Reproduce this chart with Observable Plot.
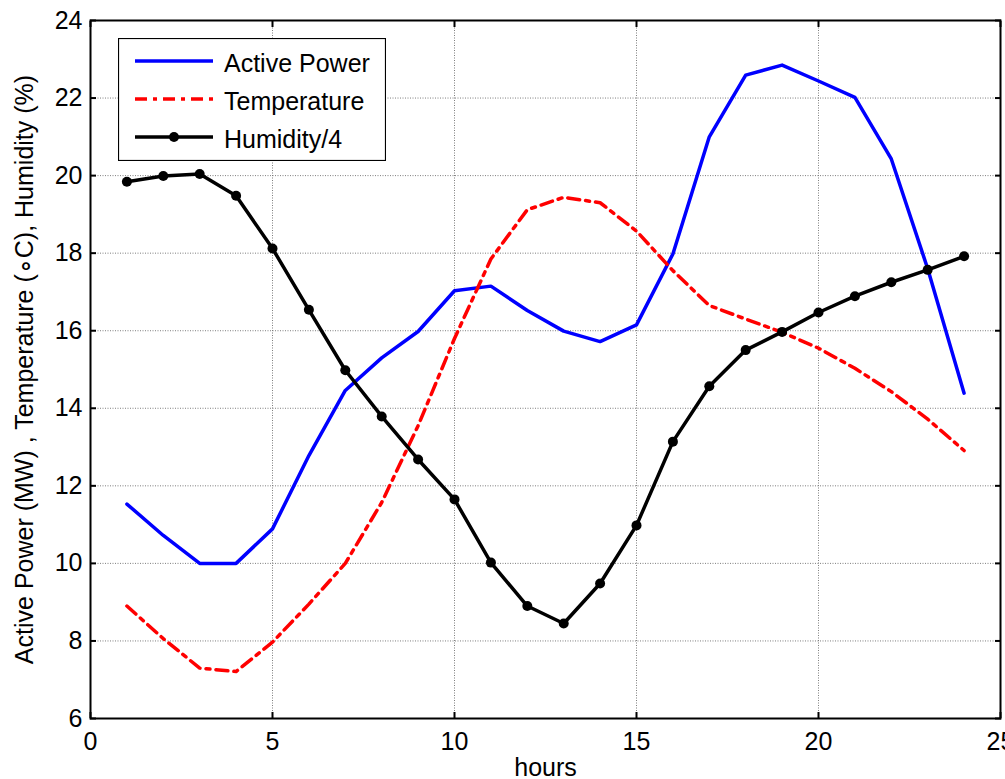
<!DOCTYPE html>
<html>
<head>
<meta charset="utf-8">
<script src="https://cdn.jsdelivr.net/npm/d3@7"></script>
<script src="https://cdn.jsdelivr.net/npm/@observablehq/plot@0.6"></script>
<style>
  html, body { margin: 0; padding: 0; background: #fff; }
  #wrap { position: relative; width: 1005px; height: 779px; overflow: hidden; }
  #legend { position: absolute; left: 118px; top: 38px; }
</style>
</head>
<body>
<div id="wrap"></div>
<script>
// ---- data ----
const hours = [1,2,3,4,5,6,7,8,9,10,11,12,13,14,15,16,17,18,19,20,21,22,23,24];
const activePower = [11.53,10.72,10.0,10.0,10.89,12.78,14.46,15.3,15.98,17.03,17.15,16.52,15.99,15.72,16.15,17.98,21.0,22.59,22.85,22.44,22.02,20.43,17.6,14.39];
const temperature = [8.9,8.06,7.3,7.21,7.97,8.95,10.0,11.57,13.55,15.8,17.85,19.12,19.44,19.3,18.57,17.55,16.65,16.3,15.96,15.55,15.03,14.43,13.72,12.91];
const humidityQuarter = [19.84,19.99,20.04,19.48,18.12,16.54,14.98,13.79,12.68,11.65,10.02,8.9,8.45,9.48,10.98,13.14,14.57,15.5,15.97,16.47,16.89,17.25,17.57,17.92];
const xTicks = [0,5,10,15,20,25];
const yTicks = [6,8,10,12,14,16,18,20,22,24];
const seriesNames = ["Active Power","Temperature","Humidity/4"];

const pw = hours.map((h,i)=>({h, v: activePower[i]}));
const tp = hours.map((h,i)=>({h, v: temperature[i]}));
const hm = hours.map((h,i)=>({h, v: humidityQuarter[i]}));

const FONT = "'Liberation Sans', Arial, Helvetica, sans-serif";
const dashDot = "12,6,4,6";
const LW = 3.5;

const chart = Plot.plot({
  width: 1005,
  height: 779,
  marginLeft: 90,
  marginRight: 5,
  marginTop: 20,
  marginBottom: 61,
  style: { fontFamily: FONT, fontSize: "25px", color: "#000", background: "#fff", overflow: "visible" },
  x: { domain: [0, 25] },
  y: { domain: [6, 24] },
  marks: [
    Plot.gridX(xTicks, { stroke: "#707070", strokeOpacity: 0.9, strokeDasharray: "1,1.5", strokeWidth: 1 }),
    Plot.gridY(yTicks, { stroke: "#707070", strokeOpacity: 0.9, strokeDasharray: "1,1.5", strokeWidth: 1 }),
    Plot.axisX(xTicks, { anchor: "bottom", tickSize: -6, tickPadding: 20, strokeWidth: 2,
      label: "hours", labelAnchor: "center", labelOffset: 57, labelArrow: "none" }),
    Plot.axisX(xTicks, { anchor: "top", tickSize: -6, strokeWidth: 2, tickFormat: () => "", label: null }),
    Plot.axisY(yTicks, { anchor: "left", tickSize: -6, tickPadding: 14, strokeWidth: 2,
      label: "Active Power (MW) , Temperature (\u2218C), Humidity (%)", labelAnchor: "center", labelOffset: 75, labelArrow: "none" }),
    Plot.axisY(yTicks, { anchor: "right", tickSize: -6, strokeWidth: 2, tickFormat: () => "", label: null }),
    Plot.line(pw, { x: "h", y: "v", stroke: "#0000ff", strokeWidth: LW }),
    Plot.line(tp, { x: "h", y: "v", stroke: "#ff0000", strokeWidth: LW, strokeDasharray: dashDot }),
    Plot.line(hm, { x: "h", y: "v", stroke: "#000", strokeWidth: LW }),
    Plot.dot(hm, { x: "h", y: "v", r: 5, fill: "#000", stroke: "none" }),
    Plot.frame({ stroke: "#000", strokeWidth: 2 })
  ]
});
document.getElementById("wrap").appendChild(chart);

// ---- legend (inside the plot area, top-left) ----
const lw = 268, lh = 123;
const leg = d3.select("#wrap").append("svg")
  .attr("id", "legend").attr("width", lw).attr("height", lh)
  .style("font-family", FONT).style("font-size", "25px");
leg.append("rect").attr("x", 0.5).attr("y", 0.5).attr("width", lw - 1).attr("height", lh - 1)
  .attr("fill", "#fff").attr("stroke", "#000").attr("stroke-width", 1.2);
const rows = [
  { name: seriesNames[0], stroke: "#0000ff", dash: null, dot: false },
  { name: seriesNames[1], stroke: "#ff0000", dash: dashDot, dot: false },
  { name: seriesNames[2], stroke: "#000", dash: null, dot: true }
];
const rowY = [23, 61, 99];
rows.forEach((r, i) => {
  const g = leg.append("g").attr("transform", `translate(0,${rowY[i]})`);
  g.append("line").attr("x1", 17).attr("x2", 95).attr("y1", 0).attr("y2", 0)
    .attr("stroke", r.stroke).attr("stroke-width", LW)
    .attr("stroke-dasharray", r.dash);
  if (r.dot) g.append("circle").attr("cx", 56).attr("cy", 0).attr("r", 5).attr("fill", "#000");
  g.append("text").attr("x", 106).attr("y", 2).attr("dy", "0.35em").attr("fill", "#000").text(r.name);
});
</script>
</body>
</html>
